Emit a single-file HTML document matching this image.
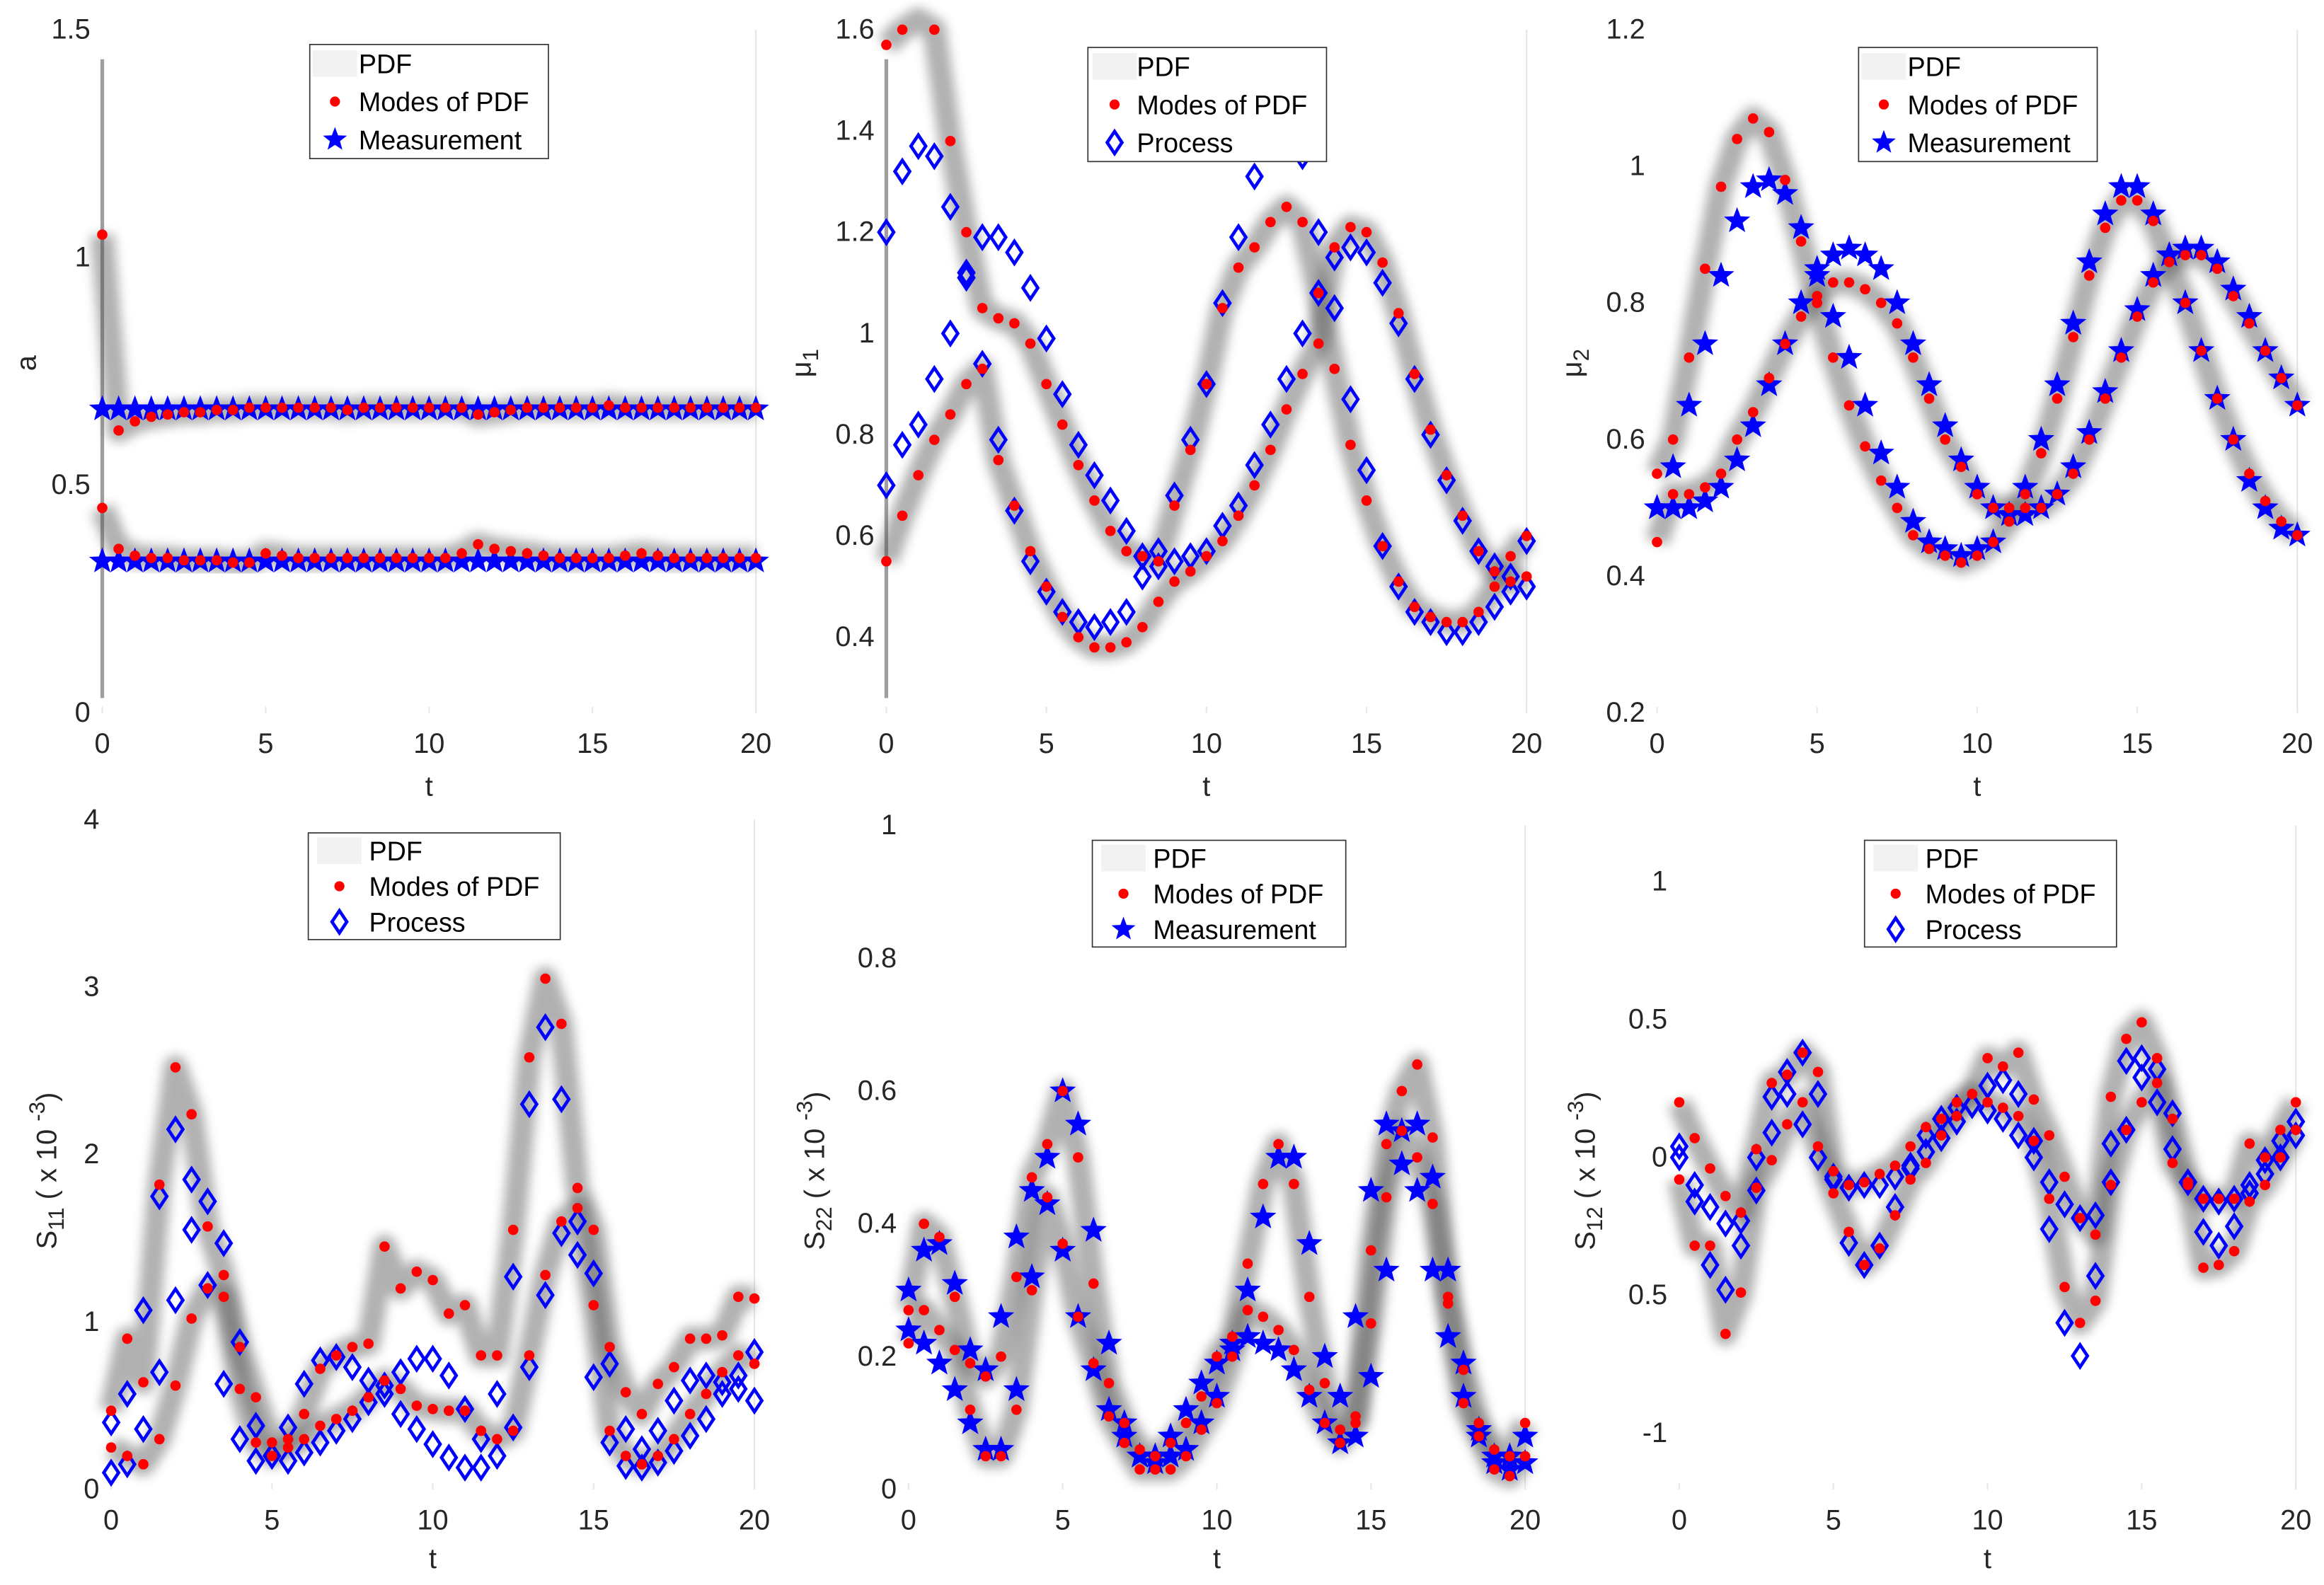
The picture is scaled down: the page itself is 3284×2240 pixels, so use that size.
<!DOCTYPE html>
<html><head><meta charset="utf-8"><title>PDF modes chart</title>
<style>
html,body{margin:0;padding:0;background:#fff;}
svg{display:block;font-family:"Liberation Sans",sans-serif;}
.tk{font-size:19px;fill:#262626;}
.lg{font-size:18px;fill:#000;}
</style></head>
<body>
<svg id="fig" width="3284" height="2240" viewBox="0 0 1568 1069.5" xmlns="http://www.w3.org/2000/svg">
<defs>
<filter id="blur" x="-20%" y="-20%" width="140%" height="140%"><feGaussianBlur stdDeviation="3.5"/></filter>
</defs>
</svg>
<script>
// time samples (category axis)
const times = [0,0.5,1,1.5,2,2.5,3,3.5,4,4.5,5,5.5,6,6.5,7,7.5,8,8.5,9,9.5,10,10.5,11,11.5,12,12.5,13,13.5,14,14.5,15,15.5,16,16.5,17,17.5,18,18.5,19,19.5,20];
const xTicks = [0,5,10,15,20];

// Panel 1: a
const aModeA = [1.05,0.62,0.64,0.65,0.655,0.66,0.66,0.665,0.665,0.67,0.67,0.67,0.67,0.67,0.67,0.665,0.67,0.67,0.67,0.67,0.67,0.67,0.67,0.655,0.66,0.665,0.67,0.67,0.67,0.67,0.67,0.675,0.67,0.67,0.67,0.67,0.67,0.67,0.67,0.67,0.67];
const aModeB = [0.45,0.36,0.345,0.34,0.34,0.335,0.335,0.335,0.33,0.33,0.35,0.345,0.34,0.34,0.34,0.34,0.34,0.34,0.34,0.34,0.34,0.34,0.35,0.37,0.36,0.355,0.35,0.345,0.34,0.34,0.34,0.34,0.345,0.35,0.345,0.34,0.34,0.34,0.34,0.34,0.34];
const aMeasA = [0.667,0.667,0.667,0.667,0.667,0.667,0.667,0.667,0.667,0.667,0.667,0.667,0.667,0.667,0.667,0.667,0.667,0.667,0.667,0.667,0.667,0.667,0.667,0.667,0.667,0.667,0.667,0.667,0.667,0.667,0.667,0.667,0.667,0.667,0.667,0.667,0.667,0.667,0.667,0.667,0.667];
const aMeasB = [0.333,0.333,0.333,0.333,0.333,0.333,0.333,0.333,0.333,0.333,0.333,0.333,0.333,0.333,0.333,0.333,0.333,0.333,0.333,0.333,0.333,0.333,0.333,0.333,0.333,0.333,0.333,0.333,0.333,0.333,0.333,0.333,0.333,0.333,0.333,0.333,0.333,0.333,0.333,0.333,0.333];
const aTicks = [0,0.5,1,1.5];
const aTickLabels = ["0","0.5","1","1.5"];

// Panel 2: mu1
const mu1ModeA = [1.57,1.6,1.62,1.6,1.38,1.2,1.05,1.03,1.02,0.98,0.9,0.82,0.74,0.67,0.61,0.57,0.56,0.55,0.66,0.77,0.9,1.05,1.13,1.17,1.22,1.25,1.22,1.08,0.93,0.78,0.67,0.58,0.51,0.46,0.44,0.43,0.43,0.45,0.5,0.56,0.6];
const mu1ModeB = [0.55,0.64,0.72,0.79,0.84,0.9,0.93,0.75,0.66,0.57,0.5,0.44,0.4,0.38,0.38,0.39,0.42,0.47,0.51,0.53,0.56,0.59,0.64,0.7,0.77,0.85,0.92,0.98,1.17,1.21,1.2,1.14,1.04,0.92,0.81,0.72,0.64,0.57,0.53,0.51,0.52];
const mu1ProcA = [1.2,1.32,1.37,1.35,1.25,1.12,1.19,1.19,1.16,1.09,0.99,0.88,0.78,0.72,0.67,0.61,0.56,0.57,0.68,0.79,0.9,1.06,1.19,1.31,1.37,1.38,1.35,1.2,1.05,0.87,0.73,0.58,0.5,0.45,0.43,0.41,0.41,0.43,0.46,0.49,0.5];
const mu1ProcB = [0.7,0.78,0.82,0.91,1.0,1.11,0.94,0.79,0.65,0.55,0.49,0.45,0.43,0.42,0.43,0.45,0.52,0.54,0.55,0.56,0.57,0.62,0.66,0.74,0.82,0.91,1.0,1.08,1.15,1.17,1.16,1.1,1.02,0.91,0.8,0.71,0.63,0.57,0.54,0.52,0.59];
const mu1Ticks = [0.4,0.6,0.8,1,1.2,1.4,1.6];
const mu1TickLabels = ["0.4","0.6","0.8","1","1.2","1.4","1.6"];

// Panel 3: mu2
const mu2ModeA = [0.55,0.6,0.72,0.85,0.97,1.04,1.07,1.05,0.98,0.89,0.8,0.72,0.65,0.59,0.54,0.5,0.46,0.44,0.43,0.42,0.43,0.45,0.48,0.52,0.58,0.66,0.75,0.84,0.91,0.95,0.95,0.92,0.86,0.8,0.73,0.66,0.6,0.55,0.51,0.48,0.46];
const mu2ModeB = [0.45,0.52,0.52,0.53,0.55,0.6,0.64,0.69,0.74,0.78,0.81,0.83,0.83,0.82,0.8,0.77,0.72,0.66,0.6,0.56,0.52,0.5,0.5,0.5,0.5,0.52,0.55,0.6,0.66,0.72,0.78,0.83,0.86,0.87,0.87,0.85,0.81,0.77,0.73,0.69,0.65];
const mu2MeasA = [0.5,0.56,0.65,0.74,0.84,0.92,0.97,0.98,0.96,0.91,0.85,0.78,0.72,0.65,0.58,0.53,0.48,0.45,0.44,0.43,0.44,0.45,0.49,0.53,0.6,0.68,0.77,0.86,0.93,0.97,0.97,0.93,0.87,0.8,0.73,0.66,0.6,0.54,0.5,0.47,0.46];
const mu2MeasB = [0.5,0.5,0.5,0.51,0.53,0.57,0.62,0.68,0.74,0.8,0.84,0.87,0.88,0.87,0.85,0.8,0.74,0.68,0.62,0.57,0.53,0.5,0.49,0.49,0.5,0.52,0.56,0.61,0.67,0.73,0.79,0.84,0.87,0.88,0.88,0.86,0.82,0.78,0.73,0.69,0.65];
const mu2Ticks = [0.2,0.4,0.6,0.8,1,1.2];
const mu2TickLabels = ["0.2","0.4","0.6","0.8","1","1.2"];

// Panel 4: S11 (x 1e-3)
const s11ModeA = [0.47,0.9,0.64,1.82,2.52,2.24,1.57,1.28,0.85,0.55,0.28,0.3,0.45,0.72,0.8,0.85,0.87,1.45,1.2,1.3,1.25,1.05,1.1,0.8,0.8,1.55,2.58,3.05,2.78,1.8,1.55,0.85,0.58,0.45,0.63,0.73,0.9,0.9,0.92,1.15,1.14];
const s11ModeB = [0.25,0.2,0.15,0.3,0.62,1.02,1.2,1.15,0.6,0.28,0.2,0.25,0.3,0.38,0.42,0.47,0.55,0.65,0.6,0.5,0.48,0.47,0.47,0.35,0.3,0.35,0.8,1.28,1.6,1.68,1.1,0.35,0.2,0.15,0.2,0.3,0.45,0.57,0.7,0.8,0.75];
const s11ProcA = [0.4,0.57,1.07,1.75,2.15,1.85,1.72,1.47,0.88,0.38,0.2,0.37,0.63,0.77,0.79,0.73,0.65,0.62,0.7,0.78,0.78,0.68,0.48,0.3,0.57,1.27,2.3,2.76,2.33,1.6,1.29,0.75,0.36,0.24,0.35,0.53,0.65,0.68,0.64,0.68,0.82];
const s11ProcB = [0.1,0.15,0.36,0.7,1.13,1.55,1.22,0.63,0.3,0.17,0.2,0.17,0.22,0.28,0.35,0.42,0.52,0.57,0.45,0.36,0.27,0.19,0.13,0.13,0.2,0.37,0.73,1.16,1.53,1.4,0.67,0.28,0.14,0.13,0.16,0.23,0.32,0.42,0.57,0.6,0.53];
const s11Ticks = [0,1,2,3,4];
const s11TickLabels = ["0","1","2","3","4"];

// Panel 5: S22 (x 1e-3)
const s22ModeA = [0.27,0.4,0.38,0.29,0.19,0.17,0.2,0.32,0.47,0.52,0.6,0.5,0.31,0.16,0.1,0.06,0.05,0.07,0.1,0.14,0.2,0.23,0.34,0.46,0.52,0.46,0.29,0.16,0.09,0.11,0.36,0.52,0.6,0.64,0.53,0.29,0.18,0.1,0.06,0.05,0.1];
const s22ModeB = [0.22,0.27,0.24,0.21,0.12,0.05,0.05,0.12,0.3,0.44,0.37,0.26,0.19,0.11,0.07,0.03,0.03,0.03,0.05,0.09,0.13,0.2,0.27,0.26,0.24,0.21,0.15,0.1,0.07,0.1,0.25,0.44,0.54,0.5,0.43,0.28,0.13,0.08,0.03,0.02,0.05];
const s22MeasA = [0.3,0.36,0.37,0.31,0.21,0.18,0.26,0.38,0.45,0.5,0.6,0.55,0.39,0.22,0.1,0.05,0.05,0.08,0.12,0.16,0.19,0.22,0.3,0.41,0.5,0.5,0.37,0.2,0.14,0.26,0.45,0.55,0.54,0.55,0.47,0.33,0.19,0.09,0.05,0.05,0.08];
const s22MeasB = [0.24,0.22,0.19,0.15,0.1,0.06,0.06,0.15,0.32,0.43,0.36,0.26,0.18,0.12,0.08,0.05,0.04,0.05,0.06,0.1,0.14,0.21,0.23,0.22,0.21,0.18,0.14,0.1,0.07,0.08,0.17,0.33,0.49,0.45,0.33,0.23,0.14,0.08,0.04,0.03,0.04];
const s22Ticks = [0,0.2,0.4,0.6,0.8,1];
const s22TickLabels = ["0","0.2","0.4","0.6","0.8","1"];

// Panel 6: S12 (x 1e-3)
const s12ModeA = [0.2,0.07,-0.04,-0.14,-0.2,0.03,0.27,0.3,0.38,0.31,-0.05,-0.1,-0.09,-0.06,-0.03,0.04,0.11,0.14,0.2,0.23,0.36,0.33,0.38,0.21,0.08,-0.07,-0.22,-0.28,0.22,0.43,0.49,0.36,0.14,-0.09,-0.15,-0.15,-0.15,0.05,0.0,0.1,0.2];
const s12ModeB = [-0.08,-0.32,-0.32,-0.64,-0.49,-0.11,-0.01,0.12,0.2,0.04,-0.13,-0.27,-0.39,-0.33,-0.21,-0.08,-0.02,0.08,0.15,0.23,0.2,0.18,0.15,0.06,-0.15,-0.47,-0.6,-0.52,-0.1,0.1,0.2,0.27,-0.02,-0.1,-0.4,-0.39,-0.34,-0.16,-0.1,0.0,0.1];
const s12ProcA = [0.04,-0.1,-0.18,-0.24,-0.23,0.0,0.22,0.31,0.38,0.23,-0.07,-0.11,-0.1,-0.1,-0.07,-0.03,0.08,0.14,0.18,0.19,0.26,0.28,0.23,0.06,-0.09,-0.17,-0.22,-0.21,0.05,0.35,0.36,0.32,0.16,-0.09,-0.15,-0.16,-0.15,-0.1,-0.01,0.06,0.13];
const s12ProcB = [0.0,-0.16,-0.39,-0.48,-0.32,-0.12,0.09,0.23,0.12,0.0,-0.08,-0.31,-0.39,-0.32,-0.18,-0.04,0.02,0.07,0.13,0.19,0.17,0.14,0.08,0.0,-0.26,-0.6,-0.72,-0.43,-0.09,0.1,0.29,0.2,0.03,-0.09,-0.27,-0.32,-0.25,-0.13,-0.06,0.0,0.08];
const s12Ticks = [1,0.5,0,-0.5,-1];
const s12TickLabels = ["1","0.5","0","0.5","-1"];

const NS = "http://www.w3.org/2000/svg";
const fig = document.getElementById('fig');
function mk(tag, attrs, parent){
  const e = document.createElementNS(NS, tag);
  for (const k in attrs) e.setAttribute(k, attrs[k]);
  (parent||fig).appendChild(e);
  return e;
}

function starPath(cx, cy, R){
  const r = R*0.42; let d = "";
  for (let i=0;i<10;i++){
    const ang = -Math.PI/2 + i*Math.PI/5;
    const rr = i%2===0 ? R : r;
    d += (i===0?"M":"L") + (cx+rr*Math.cos(ang)).toFixed(2) + " " + (cy+rr*Math.sin(ang)).toFixed(2);
  }
  return d + "Z";
}

function drawPanel(p){
  const g = mk('g', {});
  
  
  const xs = t => p.x0 + (t - 0) / 20 * (p.x1 - p.x0);
  const ys = v => p.yBot - (v - p.ymin) / (p.ymax - p.ymin) * (p.yBot - p.yTop);

  const rb = mk('line', {x1:p.x1, y1:p.yTop, x2:p.x1, y2:p.yBot, stroke:'#e6e6e6', 'stroke-width':1}, g);
  
  

  if (p.initLine){
    const il = mk('line', {x1:p.x0, y1:p.yTop+20, x2:p.x0, y2:p.yBot-10, stroke:'#777', 'stroke-width':2.5, opacity:0.7}, g);
    
    
  }

  [p.modeA, p.modeB].forEach((arr, bi) => {
    const pts = times.map((t,i) => xs(t).toFixed(2)+","+ys(arr[i]).toFixed(2)).join(" ");
    const band = mk('polyline', {points:pts, fill:'none', stroke:'#444', 'stroke-width':16, opacity:0.42, filter:'url(#blur)', 'stroke-linejoin':'round'}, g);
    
    
  });

  xTicks.forEach(t => {
    const tl = mk('text', {x:xs(t), y:p.xTickY, 'text-anchor':'middle', class:'tk'}, g);
    tl.textContent = String(t);
    
    
    const tm = mk('line', {x1:xs(t), y1:p.yBot, x2:xs(t), y2:p.yBot-4, stroke:'#e6e6e6'}, g);
    
    
  });
  p.yTicks.forEach((v,i) => {
    const tl = mk('text', {x:p.x0-8, y:ys(v)+6, 'text-anchor':'end', class:'tk'}, g);
    tl.textContent = p.yTickLabels[i];
    
    
  });
  const xl = mk('text', {x:(p.x0+p.x1)/2, y:p.xLabelY, 'text-anchor':'middle', class:'tk', 'font-size':22}, g);
  xl.textContent = 't';
  
  
  const yl = mk('text', {transform:`translate(${p.yLabelX},${p.yLabelY}) rotate(-90)`, 'text-anchor':'middle', class:'tk', 'font-size':22}, g);
  yl.innerHTML = p.yLabel;
  
  

  [p.blueA, p.blueB].forEach((arr, bi) => {
    times.forEach((t,i) => {
      const cx = xs(t), cy = ys(arr[i]);
      if (cy < p.yTop-2 || cy > p.yBot+2) return;
      let m;
      if (p.marker === 'star'){
        m = mk('path', {d:starPath(cx,cy,8.5), fill:'#0000ff', stroke:'#0000ff', 'stroke-width':0.6}, g);
      } else {
        m = mk('path', {d:`M${cx} ${cy-7.5}L${cx+5} ${cy}L${cx} ${cy+7.5}L${cx-5} ${cy}Z`, fill:'none', stroke:'#0000ff', 'stroke-width':2.2}, g);
      }
      
      
    });
  });
  [p.modeA, p.modeB].forEach((arr, bi) => {
    times.forEach((t,i) => {
      const cy = ys(arr[i]);
      if (cy < p.yTop-2 || cy > p.yBot+2) return;
      const c = mk('circle', {cx:xs(t), cy:cy, r:3.5, fill:'#ff0000'}, g);
      
      
    });
  });

  const L = p.legend;
  const lg = mk('g', {}, g);
  
  
  mk('rect', {x:L.x, y:L.y, width:L.w, height:L.h, fill:'#fff', stroke:'#333', 'stroke-width':0.8}, lg);
  const sx = L.x + L.sym, tx = L.x + L.txt, dy = L.h/3;
  const sw = mk('rect', {x:sx-15, y:L.y+dy*0.5-9, width:30, height:18, fill:'#f2f2f2'}, lg);
  
  
  const r1 = mk('circle', {cx:sx, cy:L.y+dy*1.5, r:3.4, fill:'#ff0000'}, lg);
  
  
  let bm;
  const by = L.y+dy*2.5;
  if (p.marker==='star') bm = mk('path', {d:starPath(sx,by,8.5), fill:'#0000ff'}, lg);
  else bm = mk('path', {d:`M${sx} ${by-7.5}L${sx+5} ${by}L${sx} ${by+7.5}L${sx-5} ${by}Z`, fill:'none', stroke:'#0000ff', 'stroke-width':2.2}, lg);
  
  
  const labels = ['PDF','Modes of PDF', p.marker==='star'?'Measurement':'Process'];
  labels.forEach((s,i) => {
    const tt = mk('text', {x:tx, y:L.y+dy*(i+0.5)+6.5, class:'lg'}, lg);
    tt.textContent = s;
    
    
  });
}

const sLab = (a) => `S<tspan font-size="15" dy="5">${a}</tspan><tspan dy="-5"> ( x 10 </tspan><tspan font-size="15" dy="-8">-3</tspan><tspan dy="8">)</tspan>`;

drawPanel({name:'panel-a', x0:69, x1:510, yTop:20, yBot:481, ymin:0, ymax:1.5, yTicks:aTicks, yTickLabels:aTickLabels,
  modeA:aModeA, modeB:aModeB, blueA:aMeasA, blueB:aMeasB, marker:'star', initLine:true,
  xTickY:508, xLabelY:537, yLabelX:24, yLabelY:245, yLabel:'a',
  legend:{x:209,y:30,w:161,h:77,sym:17,txt:33}});
drawPanel({name:'panel-mu1', x0:598, x1:1030, yTop:20, yBot:481, ymin:0.2507, ymax:1.6, yTicks:mu1Ticks, yTickLabels:mu1TickLabels,
  modeA:mu1ModeA, modeB:mu1ModeB, blueA:mu1ProcA, blueB:mu1ProcB, marker:'diamond', initLine:true,
  xTickY:508, xLabelY:537, yLabelX:547, yLabelY:245, yLabel:'μ<tspan font-size="15" dy="5">1</tspan>',
  legend:{x:734,y:32,w:161,h:77,sym:18,txt:33}});
drawPanel({name:'panel-mu2', x0:1118, x1:1550, yTop:20, yBot:481, ymin:0.2, ymax:1.2, yTicks:mu2Ticks, yTickLabels:mu2TickLabels,
  modeA:mu2ModeA, modeB:mu2ModeB, blueA:mu2MeasA, blueB:mu2MeasB, marker:'star', initLine:false,
  xTickY:508, xLabelY:537, yLabelX:1067, yLabelY:245, yLabel:'μ<tspan font-size="15" dy="5">2</tspan>',
  legend:{x:1254,y:32,w:161,h:77,sym:17,txt:33}});
drawPanel({name:'panel-s11', x0:75, x1:509, yTop:553, yBot:1005, ymin:0, ymax:4, yTicks:s11Ticks, yTickLabels:s11TickLabels,
  modeA:s11ModeA, modeB:s11ModeB, blueA:s11ProcA, blueB:s11ProcB, marker:'diamond', initLine:false,
  xTickY:1032, xLabelY:1058, yLabelX:38, yLabelY:790, yLabel:sLab('11'),
  legend:{x:208,y:562,w:170,h:72,sym:21,txt:41}});
drawPanel({name:'panel-s22', x0:613, x1:1029, yTop:557, yBot:1005, ymin:0, ymax:1, yTicks:s22Ticks, yTickLabels:s22TickLabels,
  modeA:s22ModeA, modeB:s22ModeB, blueA:s22MeasA, blueB:s22MeasB, marker:'star', initLine:false,
  xTickY:1032, xLabelY:1058, yLabelX:556, yLabelY:790, yLabel:sLab('22'),
  legend:{x:737,y:567,w:171,h:72,sym:21,txt:41}});
drawPanel({name:'panel-s12', x0:1133, x1:1549, yTop:557, yBot:1005, ymin:-1.204, ymax:1.204, yTicks:s12Ticks, yTickLabels:s12TickLabels,
  modeA:s12ModeA, modeB:s12ModeB, blueA:s12ProcA, blueB:s12ProcB, marker:'diamond', initLine:false,
  xTickY:1032, xLabelY:1058, yLabelX:1076, yLabelY:790, yLabel:sLab('12'),
  legend:{x:1258,y:567,w:170,h:72,sym:21,txt:41}});
</script>
</body></html>
